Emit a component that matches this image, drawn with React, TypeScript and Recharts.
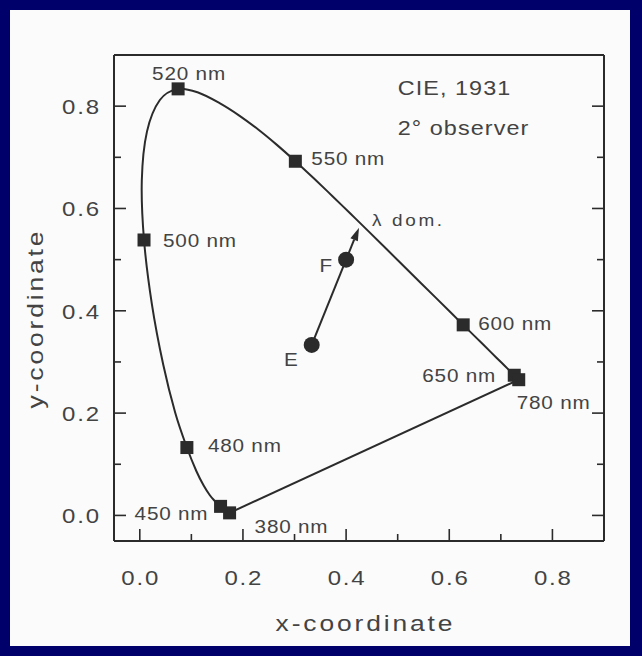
import React from 'react';
import { ScatterChart, Scatter, XAxis, YAxis } from 'recharts';

// ---------- data (CIE 1931, 2° observer) ----------
const spectralLocus = [
  { nm: 380, x: 0.1741, y: 0.005 },
  { nm: 385, x: 0.174, y: 0.005 },
  { nm: 390, x: 0.1738, y: 0.0049 },
  { nm: 395, x: 0.1736, y: 0.0049 },
  { nm: 400, x: 0.1733, y: 0.0048 },
  { nm: 405, x: 0.173, y: 0.0048 },
  { nm: 410, x: 0.1726, y: 0.0048 },
  { nm: 415, x: 0.1721, y: 0.0048 },
  { nm: 420, x: 0.1714, y: 0.0051 },
  { nm: 425, x: 0.1703, y: 0.0058 },
  { nm: 430, x: 0.1689, y: 0.0069 },
  { nm: 435, x: 0.1669, y: 0.0086 },
  { nm: 440, x: 0.1644, y: 0.0109 },
  { nm: 445, x: 0.1611, y: 0.0138 },
  { nm: 450, x: 0.1566, y: 0.0177 },
  { nm: 455, x: 0.151, y: 0.0227 },
  { nm: 460, x: 0.144, y: 0.0297 },
  { nm: 465, x: 0.1355, y: 0.0399 },
  { nm: 470, x: 0.1241, y: 0.0578 },
  { nm: 475, x: 0.1096, y: 0.0868 },
  { nm: 480, x: 0.0913, y: 0.1327 },
  { nm: 485, x: 0.0687, y: 0.2007 },
  { nm: 490, x: 0.0454, y: 0.295 },
  { nm: 495, x: 0.0235, y: 0.4127 },
  { nm: 500, x: 0.0082, y: 0.5384 },
  { nm: 505, x: 0.0039, y: 0.6548 },
  { nm: 510, x: 0.0139, y: 0.7502 },
  { nm: 515, x: 0.0389, y: 0.812 },
  { nm: 520, x: 0.0743, y: 0.8338 },
  { nm: 525, x: 0.1142, y: 0.8262 },
  { nm: 530, x: 0.1547, y: 0.8059 },
  { nm: 535, x: 0.1929, y: 0.7816 },
  { nm: 540, x: 0.2296, y: 0.7543 },
  { nm: 545, x: 0.2658, y: 0.7243 },
  { nm: 550, x: 0.3016, y: 0.6923 },
  { nm: 555, x: 0.3373, y: 0.6589 },
  { nm: 560, x: 0.3731, y: 0.6245 },
  { nm: 565, x: 0.4087, y: 0.5896 },
  { nm: 570, x: 0.4441, y: 0.5547 },
  { nm: 575, x: 0.4788, y: 0.5202 },
  { nm: 580, x: 0.5125, y: 0.4866 },
  { nm: 585, x: 0.5448, y: 0.4544 },
  { nm: 590, x: 0.5752, y: 0.4242 },
  { nm: 595, x: 0.6029, y: 0.3965 },
  { nm: 600, x: 0.627, y: 0.3725 },
  { nm: 605, x: 0.6482, y: 0.3514 },
  { nm: 610, x: 0.6658, y: 0.334 },
  { nm: 615, x: 0.6801, y: 0.3197 },
  { nm: 620, x: 0.6915, y: 0.3083 },
  { nm: 625, x: 0.7006, y: 0.2993 },
  { nm: 630, x: 0.7079, y: 0.292 },
  { nm: 635, x: 0.714, y: 0.2859 },
  { nm: 640, x: 0.719, y: 0.2809 },
  { nm: 645, x: 0.723, y: 0.277 },
  { nm: 650, x: 0.726, y: 0.274 },
  { nm: 655, x: 0.7283, y: 0.2717 },
  { nm: 660, x: 0.73, y: 0.27 },
  { nm: 665, x: 0.7311, y: 0.2689 },
  { nm: 670, x: 0.732, y: 0.268 },
  { nm: 675, x: 0.7327, y: 0.2673 },
  { nm: 680, x: 0.7334, y: 0.2666 },
  { nm: 780, x: 0.7347, y: 0.2653 },
];
const markedWavelengths = [380, 450, 480, 500, 520, 550, 600, 650, 780];
const purpleLineEnds = [780, 380];
const illuminants = [
  { name: 'E', x: 0.3333, y: 0.3333 },
  { name: 'F', x: 0.4, y: 0.5 },
];
const dominantArrow = [
  { x: 0.3333, y: 0.3333 },
  { x: 0.425, y: 0.5625 },
];
const dominantLabel = 'λ dom.';
const notes = ['CIE, 1931', '2° observer'];
const axisDomain: [number, number] = [-0.05, 0.9];
const axisTicks = [0, 0.1, 0.2, 0.3, 0.4, 0.5, 0.6, 0.7, 0.8];
const majorTickLabels = ['0.0', '0.2', '0.4', '0.6', '0.8'];
const xTitle = 'x-coordinate';
const yTitle = 'y-coordinate';

// ---------- derived series ----------
const locusByNm = (nm: number) => spectralLocus.find((p) => p.nm === nm)!;
const markerData = markedWavelengths.map((nm) => ({ ...locusByNm(nm), label: `${nm} nm` }));
const purpleData = purpleLineEnds.map(locusByNm);
const noteAnchor = { x: 0.5, y: 0.822, step: 0.0784 };
const noteData = notes.map((text, i) => ({ x: noteAnchor.x, y: noteAnchor.y - i * noteAnchor.step, text }));
const tipData = [{ ...dominantArrow[1], text: dominantLabel }];

// ---------- styles ----------
const FONT = '"Liberation Sans", Arial, Helvetica, sans-serif';
const INK = '#2b2b2b';
const TEXT = '#434343';
const NAVY = '#00006a';

type Anchor = 'start' | 'middle' | 'end';
const LABEL_OFFSETS: Record<string, { dx: number; dy: number; anchor: Anchor }> = {
  '380 nm': { dx: 25, dy: 20, anchor: 'start' },
  '450 nm': { dx: -13, dy: 14, anchor: 'end' },
  '480 nm': { dx: 21, dy: 4, anchor: 'start' },
  '500 nm': { dx: 19, dy: 7, anchor: 'start' },
  '520 nm': { dx: -26, dy: -9, anchor: 'start' },
  '550 nm': { dx: 16, dy: 4, anchor: 'start' },
  '600 nm': { dx: 15, dy: 5, anchor: 'start' },
  '650 nm': { dx: -19, dy: 7, anchor: 'end' },
  '780 nm': { dx: -2, dy: 29, anchor: 'start' },
  E: { dx: -14, dy: 21, anchor: 'end' },
  F: { dx: -14, dy: 12, anchor: 'end' },
};

function SText({
  x, y, anchor = 'start', size, ls = 0, sx = 1, angle = 0, children,
}: { x: number; y: number; anchor?: Anchor; size: number; ls?: number; sx?: number; angle?: number; children: React.ReactNode }) {
  const shift = anchor === 'end' ? ls : anchor === 'middle' ? ls / 2 : 0;
  return (
    <text
      transform={`translate(${x},${y}) rotate(${angle}) scale(${sx},1)`}
      x={shift}
      y={0}
      textAnchor={anchor}
      fontFamily={FONT}
      fontSize={size}
      letterSpacing={ls}
      fill={TEXT}
    >
      {children}
    </text>
  );
}

const TICK = { size: 20, ls: 1.5, sx: 1.2 };
const ANN = { size: 18, ls: 0.7, sx: 1.15 };
const NOTE = { size: 19.5, ls: 0.9, sx: 1.2 };
const TITLE = { size: 22, ls: 2.4, sx: 1.2 };
const TIP = { size: 16.5, ls: 2.3, sx: 1.15 };

const labelOf = (v: number) => {
  const s = Number(v).toFixed(1);
  return majorTickLabels.includes(s) ? s : null;
};
const tickLen = (v: number) => (labelOf(v) ? 12 : 7);

const BottomTick = (p: any) => {
  const { x, y, payload } = p;
  const lab = labelOf(payload.value);
  return (
    <g>
      <line x1={x} y1={y} x2={x} y2={y - tickLen(payload.value)} stroke={INK} strokeWidth={1.6} />
      {lab && (
        <SText x={x} y={y + 44} anchor="middle" {...TICK}>
          {lab}
        </SText>
      )}
    </g>
  );
};
const TopTick = (p: any) => {
  const { x, y, payload } = p;
  return <line x1={x} y1={y} x2={x} y2={y + tickLen(payload.value)} stroke={INK} strokeWidth={1.6} />;
};
const LeftTick = (p: any) => {
  const { x, y, payload } = p;
  const lab = labelOf(payload.value);
  return (
    <g>
      <line x1={x} y1={y} x2={x + tickLen(payload.value)} y2={y} stroke={INK} strokeWidth={1.6} />
      {lab && (
        <SText x={x - 15} y={y + 8} anchor="end" {...TICK}>
          {lab}
        </SText>
      )}
    </g>
  );
};
const RightTick = (p: any) => {
  const { x, y, payload } = p;
  return <line x1={x} y1={y} x2={x - tickLen(payload.value)} y2={y} stroke={INK} strokeWidth={1.6} />;
};

const XTitle = (p: any) => {
  const vb = p.viewBox || { x: 114, y: 541, width: 490, height: 100 };
  return (
    <SText x={vb.x + vb.width / 2 + 5} y={vb.y + 90} anchor="middle" {...TITLE}>
      {xTitle}
    </SText>
  );
};
const YTitle = (p: any) => {
  const vb = p.viewBox || { x: 54, y: 55, width: 60, height: 486 };
  return (
    <SText x={vb.x - 11} y={vb.y + vb.height / 2 + 22} anchor="middle" angle={-90} {...TITLE}>
      {yTitle}
    </SText>
  );
};

const crPath = (pts: { x: number; y: number }[]) => {
  if (!pts || !pts.length) return '';
  let d = `M${pts[0].x},${pts[0].y}`;
  for (let i = 0; i < pts.length - 1; i++) {
    const p0 = pts[Math.max(0, i - 1)];
    const p1 = pts[i];
    const p2 = pts[i + 1];
    const p3 = pts[Math.min(pts.length - 1, i + 2)];
    const c1x = p1.x + (p2.x - p0.x) / 6;
    const c1y = p1.y + (p2.y - p0.y) / 6;
    const c2x = p2.x - (p3.x - p1.x) / 6;
    const c2y = p2.y - (p3.y - p1.y) / 6;
    d += `C${c1x},${c1y} ${c2x},${c2y} ${p2.x},${p2.y}`;
  }
  return d;
};

const LocusLine = (p: any) => <path d={crPath(p.points)} fill="none" stroke={INK} strokeWidth={2} />;
const StraightLine = (p: any) => {
  const pts = p.points || [];
  if (pts.length < 2) return <g />;
  return <path d={`M${pts[0].x},${pts[0].y}L${pts[1].x},${pts[1].y}`} fill="none" stroke={INK} strokeWidth={2} />;
};
const ArrowLine = (p: any) => {
  const pts = p.points || [];
  if (pts.length < 2) return <g />;
  const [a, b] = pts;
  const ang = Math.atan2(b.y - a.y, b.x - a.x);
  const L = 13;
  const W = 4;
  const bx = b.x - L * Math.cos(ang);
  const by = b.y - L * Math.sin(ang);
  const nx = -Math.sin(ang) * W;
  const ny = Math.cos(ang) * W;
  return (
    <g>
      <path d={`M${a.x},${a.y}L${bx},${by}`} fill="none" stroke={INK} strokeWidth={2} />
      <path d={`M${b.x},${b.y}L${bx + nx},${by + ny}L${bx - nx},${by - ny}Z`} fill={INK} />
    </g>
  );
};

const Nothing = () => <g />;
const Square = (p: any) => <rect x={p.cx - 6.5} y={p.cy - 6.5} width={13} height={13} fill={INK} />;
const Dot = (p: any) => <circle cx={p.cx} cy={p.cy} r={8} fill={INK} />;

const PointLabel = (p: any) => {
  const key = p.payload.label ?? p.payload.name;
  const o = LABEL_OFFSETS[key];
  if (!o) return <g />;
  const isLetter = key.length === 1;
  return (
    <SText x={p.cx + o.dx} y={p.cy + o.dy} anchor={o.anchor} size={ANN.size} ls={isLetter ? 0 : ANN.ls} sx={ANN.sx}>
      {key}
    </SText>
  );
};
const NoteText = (p: any) => (
  <SText x={p.cx} y={p.cy} {...NOTE}>
    {p.payload.text}
  </SText>
);
const TipText = (p: any) => (
  <SText x={p.cx + 13} y={p.cy - 2} {...TIP}>
    {p.payload.text}
  </SText>
);

const axisLine = { stroke: INK, strokeWidth: 2 };

export default function App() {
  return (
    <div style={{ position: 'absolute', left: 0, top: 0, width: 642, height: 656, background: NAVY, overflow: 'hidden' }}>
      <div style={{ position: 'absolute', left: 10, top: 10, width: 620, height: 636, background: '#fbfbfb' }} />
      <div style={{ position: 'absolute', left: 0, top: 0 }}>
        <ScatterChart width={642} height={656} margin={{ top: 45, right: 28, bottom: 15, left: 54 }}>
          <XAxis
            dataKey="x"
            type="number"
            domain={axisDomain}
            allowDataOverflow
            ticks={axisTicks}
            interval={0}
            tickSize={0}
            tickMargin={0}
            tick={BottomTick}
            tickLine={false}
            axisLine={axisLine}
            height={100}
            label={XTitle}
          />
          <XAxis
            xAxisId="top"
            orientation="top"
            type="number"
            domain={axisDomain}
            allowDataOverflow
            ticks={axisTicks}
            interval={0}
            tickSize={0}
            tickMargin={0}
            tick={TopTick}
            tickLine={false}
            axisLine={axisLine}
            height={10}
          />
          <YAxis
            dataKey="y"
            type="number"
            domain={axisDomain}
            allowDataOverflow
            ticks={axisTicks}
            interval={0}
            tickSize={0}
            tickMargin={0}
            tick={LeftTick}
            tickLine={false}
            axisLine={axisLine}
            width={60}
            label={YTitle}
          />
          <YAxis
            yAxisId="right"
            orientation="right"
            type="number"
            domain={axisDomain}
            allowDataOverflow
            ticks={axisTicks}
            interval={0}
            tickSize={0}
            tickMargin={0}
            tick={RightTick}
            tickLine={false}
            axisLine={axisLine}
            width={10}
          />
          <Scatter data={spectralLocus} line={LocusLine} shape={Nothing} isAnimationActive={false} />
          <Scatter data={purpleData} line={StraightLine} shape={Nothing} isAnimationActive={false} />
          <Scatter data={dominantArrow} line={ArrowLine} shape={Nothing} isAnimationActive={false} />
          <Scatter data={markerData} shape={Square} isAnimationActive={false} />
          <Scatter data={illuminants} shape={Dot} isAnimationActive={false} />
          <Scatter data={markerData} shape={PointLabel} isAnimationActive={false} />
          <Scatter data={illuminants} shape={PointLabel} isAnimationActive={false} />
          <Scatter data={noteData} shape={NoteText} isAnimationActive={false} />
          <Scatter data={tipData} shape={TipText} isAnimationActive={false} />
        </ScatterChart>
      </div>
    </div>
  );
}
